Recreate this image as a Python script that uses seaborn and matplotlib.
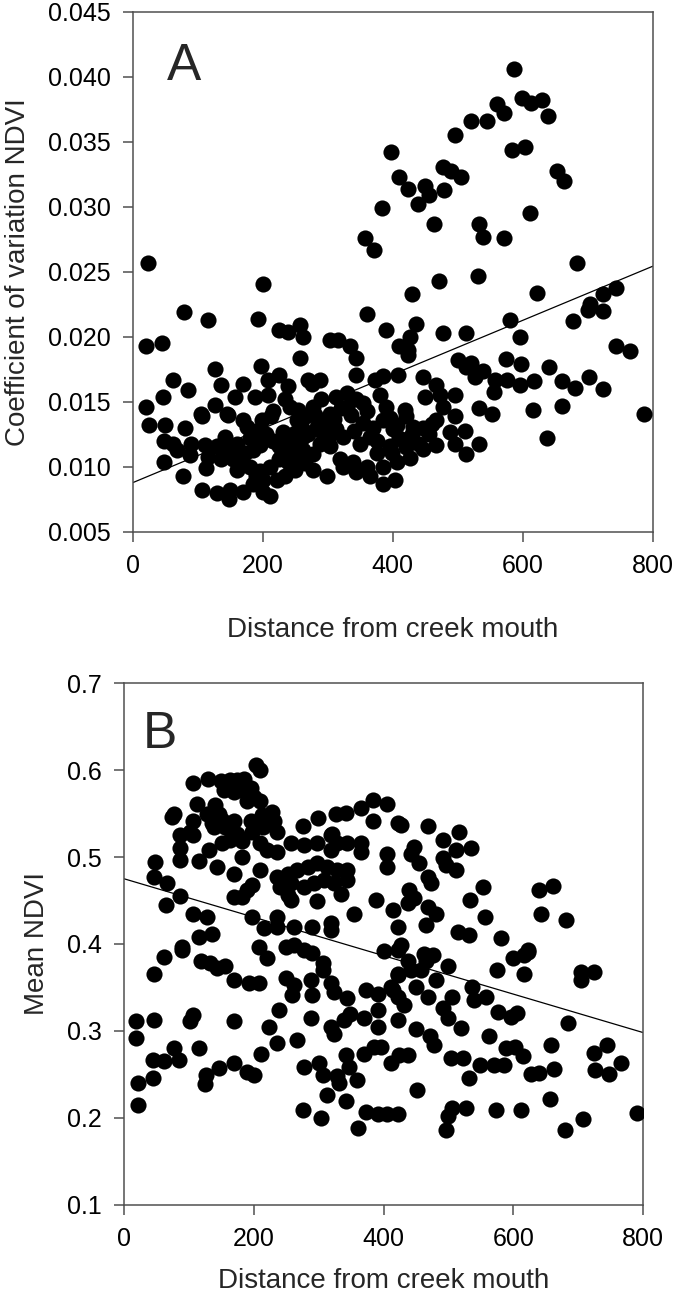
import numpy as np
import pandas as pd
from matplotlib import pyplot as plt
import seaborn as sns

# %%
# panel A: distance from creek mouth vs coefficient of variation of NDVI
dist_a = [397, 409, 383, 357, 371, 23, 200,
          587, 599, 612, 629, 639, 561, 571, 545, 520, 495, 584, 604,
          424, 449, 455, 438, 477, 490, 505, 479, 463, 533, 538, 571, 611, 653, 664, 683,
          471, 531, 430, 622, 744, 724,
          703, 700, 723, 677, 580, 595, 743, 765, 786, 477, 513, 435, 426, 409, 423, 423, 390,
          500, 521, 513, 538, 526, 557, 575, 556, 595, 617, 574, 598, 640,
          660, 680, 702, 723, 616, 660, 638, 533, 553, 533, 513,
          447, 467, 495, 449, 477, 495, 511, 495, 467, 466, 418, 421, 447, 406, 416, 398, 406, 426, 447, 404, 472, 488, 431,
          79, 115, 193, 360, 20, 45, 224, 239, 257, 261, 303, 316, 334, 343, 257, 197, 126, 61, 85, 136, 170, 157, 188, 208,
          208, 224, 239, 270, 288, 276, 343, 372, 385, 408,
          46, 20, 24, 49, 80, 47, 62, 67, 47, 77, 90, 88, 105, 106, 126, 144, 147, 111, 116, 113, 129, 142,
          106, 130, 148, 149, 160, 154, 136,
          170, 185, 200, 211, 200, 221, 234, 239, 224, 211, 190, 172, 185, 195,
          170, 175, 198, 213, 216, 231, 237, 237, 252, 249, 262, 262, 252, 254, 267, 234, 242,
          277, 290, 303, 313, 329, 344, 354, 329,
          283, 298, 313, 324, 288, 277, 303, 318, 277, 298, 324, 339, 344, 360, 365, 354, 365, 385, 400, 390, 395, 385, 385, 375,
          260, 270, 280, 290, 300, 310, 320, 335, 340, 350, 360, 370, 375, 380, 395, 410, 420, 430, 440, 455, 460,
          245, 255, 225, 215, 205, 190, 180, 160, 150, 165, 180, 195, 250, 265, 230]
cv_a = [0.0342, 0.0323, 0.0299, 0.0276, 0.0267, 0.0257, 0.0241,
        0.0406, 0.0384, 0.0380, 0.0382, 0.0370, 0.0379, 0.0372, 0.0366, 0.0366, 0.0355, 0.0344, 0.0346,
        0.0314, 0.0316, 0.0309, 0.0302, 0.0331, 0.0328, 0.0323, 0.0313, 0.0287, 0.0287, 0.0277, 0.0276, 0.0295, 0.0328, 0.0320, 0.0257,
        0.0243, 0.0247, 0.0233, 0.0234, 0.0238, 0.0233,
        0.0225, 0.0221, 0.0220, 0.0212, 0.0213, 0.0200, 0.0193, 0.0189, 0.0141, 0.0203, 0.0203, 0.0210, 0.0200, 0.0193, 0.0190, 0.0186, 0.0205,
        0.0182, 0.0180, 0.0177, 0.0174, 0.0169, 0.0167, 0.0167, 0.0158, 0.0163, 0.0166, 0.0183, 0.0179, 0.0177,
        0.0166, 0.0161, 0.0169, 0.0160, 0.0144, 0.0147, 0.0122, 0.0145, 0.0141, 0.0118, 0.0110,
        0.0169, 0.0163, 0.0155, 0.0154, 0.0146, 0.0139, 0.0128, 0.0118, 0.0117, 0.0136, 0.0144, 0.0139, 0.0130, 0.0132, 0.0121, 0.0111, 0.0104, 0.0107, 0.0114, 0.0090, 0.0155, 0.0127, 0.0131,
        0.0219, 0.0213, 0.0214, 0.0218, 0.0193, 0.0195, 0.0205, 0.0204, 0.0209, 0.0200, 0.0198, 0.0198, 0.0193, 0.0184, 0.0184, 0.0178, 0.0175, 0.0167, 0.0159, 0.0163, 0.0164, 0.0154, 0.0154, 0.0155,
        0.0167, 0.0171, 0.0162, 0.0167, 0.0167, 0.0164, 0.0171, 0.0167, 0.0170, 0.0171,
        0.0154, 0.0146, 0.0132, 0.0132, 0.0130, 0.0120, 0.0118, 0.0113, 0.0104, 0.0093, 0.0118, 0.0109, 0.0141, 0.0139, 0.0148, 0.0141, 0.0140, 0.0117, 0.0108, 0.0099, 0.0116, 0.0123,
        0.0082, 0.0080, 0.0075, 0.0082, 0.0098, 0.0106, 0.0106,
        0.0081, 0.0087, 0.0090, 0.0078, 0.0081, 0.0090, 0.0093, 0.0104, 0.0106, 0.0100, 0.0093, 0.0111, 0.0113, 0.0117,
        0.0136, 0.0131, 0.0136, 0.0139, 0.0143, 0.0127, 0.0123, 0.0118, 0.0136, 0.0126, 0.0123, 0.0113, 0.0106, 0.0144, 0.0139, 0.0152, 0.0146,
        0.0146, 0.0152, 0.0141, 0.0154, 0.0157, 0.0152, 0.0149, 0.0146,
        0.0131, 0.0134, 0.0129, 0.0123, 0.0118, 0.0110, 0.0116, 0.0106, 0.0098, 0.0093, 0.0100, 0.0104, 0.0096, 0.0100, 0.0093, 0.0134, 0.0123, 0.0136, 0.0129, 0.0146, 0.0116, 0.0100, 0.0087, 0.0111,
        0.0130, 0.0125, 0.0140, 0.0128, 0.0122, 0.0137, 0.0145, 0.0140, 0.0128, 0.0118, 0.0143, 0.0130, 0.0120, 0.0155, 0.0138, 0.0122, 0.0115, 0.0125, 0.0118, 0.0125, 0.0133,
        0.0112, 0.0118, 0.0116, 0.0120, 0.0125, 0.0128, 0.0122, 0.0118, 0.0113, 0.0103, 0.0100, 0.0097, 0.0098, 0.0103, 0.0110]

# panel B: distance from creek mouth vs mean NDVI
dist_b = [203, 210, 106, 129, 150, 164, 174, 185, 154, 169, 180, 195, 200, 210, 190,
          113, 141, 128, 146, 77, 74, 106, 102, 136, 151, 169, 156, 138,
          195, 213, 228, 231, 215, 198, 236, 87, 87, 87, 107,
          115, 131, 144, 151, 164, 174, 182, 182, 169, 210, 221, 236, 210, 198, 190, 169, 182,
          257, 277, 298, 319, 329, 344, 319, 365, 365, 276, 299, 321,
          326, 342, 365, 384, 406, 383, 422, 406, 406, 388, 414, 422,
          48, 46, 66, 86, 65, 107, 128, 136, 115, 89,
          236, 252, 267, 283, 298, 313, 329, 344, 241, 257, 277, 293, 308, 324, 344, 334, 257, 298, 252,
          198, 216, 236, 236, 262, 290, 319, 319, 355,
          427, 469, 491, 516, 535, 512, 447, 442, 455, 491, 496, 512, 468, 473, 439, 447, 437, 468, 481, 465,
          427, 514, 532, 534, 554, 557, 581, 622, 639, 661, 642, 681,
          46, 61, 89, 118, 133, 144, 156, 169, 192, 208, 208, 221,
          249, 262, 277, 290, 306, 306, 249, 262, 259, 288, 290,
          319, 324, 344, 349, 370, 391, 339, 319, 324, 373, 391, 391, 411, 422, 422, 401, 422,
          239, 223, 236, 267, 288, 211, 19, 19, 46, 45, 61, 77, 84, 102, 107, 115, 170, 21, 45, 21,
          127, 125, 146, 169, 190, 200,
          277, 300, 306, 329, 331, 342, 347, 359, 313, 342, 276, 304, 360, 373, 391, 406, 422, 411, 370, 385, 396,
          437, 463, 476, 465, 458, 442, 422, 414, 422, 432, 450, 468, 481, 499,
          599, 617, 622, 617, 575,
          450, 472, 478, 491, 499, 506, 520, 537, 540, 558, 563, 576, 596, 606,
          424, 437, 504, 522, 548, 532, 571, 586, 589, 602, 615, 627, 640, 663, 658, 684,
          452, 506, 499, 496, 527, 573, 612, 656, 679, 707, 790,
          704, 704, 724, 724, 745, 726, 747, 766]
ndvi_b = [0.606, 0.600, 0.585, 0.590, 0.587, 0.588, 0.589, 0.590, 0.577, 0.575, 0.577, 0.579, 0.569, 0.564, 0.564,
          0.561, 0.560, 0.550, 0.550, 0.550, 0.546, 0.541, 0.529, 0.539, 0.543, 0.541, 0.535, 0.535,
          0.541, 0.548, 0.552, 0.541, 0.535, 0.529, 0.529, 0.525, 0.510, 0.497, 0.525,
          0.495, 0.508, 0.489, 0.516, 0.520, 0.527, 0.518, 0.500, 0.481, 0.516, 0.508, 0.506, 0.485, 0.468, 0.462, 0.454, 0.454,
          0.516, 0.514, 0.516, 0.525, 0.516, 0.516, 0.508, 0.516, 0.506, 0.536, 0.545, 0.527,
          0.550, 0.551, 0.556, 0.566, 0.561, 0.541, 0.539, 0.504, 0.489, 0.451, 0.439, 0.420,
          0.494, 0.477, 0.470, 0.455, 0.445, 0.435, 0.431, 0.412, 0.408, 0.397,
          0.477, 0.481, 0.485, 0.489, 0.493, 0.489, 0.485, 0.485, 0.466, 0.470, 0.466, 0.470, 0.474, 0.470, 0.474, 0.458, 0.451, 0.449, 0.456,
          0.431, 0.418, 0.431, 0.420, 0.420, 0.420, 0.424, 0.416, 0.435,
          0.537, 0.536, 0.520, 0.529, 0.510, 0.508, 0.512, 0.504, 0.493, 0.499, 0.491, 0.485, 0.477, 0.470, 0.462, 0.453, 0.447, 0.443, 0.435, 0.422,
          0.399, 0.414, 0.410, 0.451, 0.465, 0.431, 0.407, 0.393, 0.462, 0.467, 0.435, 0.428,
          0.366, 0.385, 0.393, 0.380, 0.378, 0.372, 0.375, 0.359, 0.355, 0.355, 0.397, 0.384,
          0.397, 0.399, 0.393, 0.390, 0.378, 0.370, 0.361, 0.353, 0.341, 0.359, 0.341,
          0.355, 0.345, 0.338, 0.320, 0.315, 0.305, 0.313, 0.305, 0.297, 0.347, 0.343, 0.324, 0.351, 0.366, 0.393, 0.392, 0.313,
          0.324, 0.305, 0.286, 0.290, 0.315, 0.274, 0.311, 0.292, 0.313, 0.267, 0.265, 0.280, 0.267, 0.311, 0.318, 0.280, 0.312, 0.240, 0.246, 0.215,
          0.249, 0.239, 0.257, 0.263, 0.253, 0.249,
          0.259, 0.263, 0.249, 0.248, 0.240, 0.272, 0.259, 0.244, 0.226, 0.219, 0.209, 0.200, 0.188, 0.207, 0.205, 0.205, 0.205, 0.263, 0.274, 0.282, 0.282,
          0.380, 0.389, 0.387, 0.380, 0.370, 0.370, 0.364, 0.347, 0.339, 0.330, 0.351, 0.339, 0.359, 0.375,
          0.384, 0.387, 0.391, 0.366, 0.370,
          0.302, 0.294, 0.284, 0.326, 0.315, 0.339, 0.303, 0.351, 0.336, 0.339, 0.294, 0.322, 0.316, 0.321,
          0.272, 0.272, 0.269, 0.269, 0.261, 0.246, 0.261, 0.261, 0.280, 0.282, 0.271, 0.251, 0.252, 0.256, 0.284, 0.309,
          0.232, 0.211, 0.202, 0.186, 0.211, 0.209, 0.209, 0.222, 0.186, 0.199, 0.206,
          0.368, 0.359, 0.368, 0.275, 0.284, 0.255, 0.251, 0.263]

# fitted lines as printed in the figure (intercept, slope per unit distance)
fit_a = (0.0088, 0.0000208)
fit_b = (0.475, -0.000221)

xticks = [0, 200, 400, 600, 800]
yticks_a = [0.005, 0.010, 0.015, 0.020, 0.025, 0.030, 0.035, 0.040, 0.045]
yticks_b = [0.1, 0.2, 0.3, 0.4, 0.5, 0.6, 0.7]

df_a = pd.DataFrame({'distance': dist_a, 'cv': cv_a})
df_b = pd.DataFrame({'distance': dist_b, 'ndvi': ndvi_b})

# %%
sns.set_style('ticks')
plt.rcParams['font.family'] = ['Liberation Sans', 'DejaVu Sans']
plt.rcParams['axes.edgecolor'] = '#505050'
plt.rcParams['axes.linewidth'] = 1.1
plt.rcParams['xtick.color'] = '#505050'
plt.rcParams['ytick.color'] = '#505050'
plt.rcParams['xtick.labelcolor'] = 'black'
plt.rcParams['ytick.labelcolor'] = 'black'

fig = plt.figure(figsize=(6.75, 13), dpi=100)
ax_a = fig.add_axes([0.197, 0.5908, 0.770, 0.400])
ax_b = fig.add_axes([0.1837, 0.0731, 0.769, 0.4015])


def panel(ax, data, ycol, fit, yticks, ylabel, letter, ypos, xpad):
    sns.scatterplot(data=data, x='distance', y=ycol, ax=ax, color='black',
                    s=135, linewidth=0, legend=False, zorder=3)
    # regression line over the full x range
    line = pd.DataFrame({'distance': [xticks[0], xticks[-1]]})
    line[ycol] = fit[0] + fit[1] * line['distance']
    sns.lineplot(data=line, x='distance', y=ycol, ax=ax, color='black',
                 lw=0.9, zorder=2)
    ax.set_xlim(xticks[0], xticks[-1])
    ax.set_ylim(yticks[0], yticks[-1])
    ax.set_xticks(xticks)
    ax.set_yticks(yticks)
    ax.tick_params(length=7, width=1.1, labelsize=18, pad=9)
    ax.set_xlabel('Distance from creek mouth', fontsize=20, labelpad=xpad)
    ax.set_ylabel(ylabel, fontsize=20, labelpad=12)
    ax.text(ypos[0], ypos[1], letter, transform=ax.transAxes, fontsize=37,
            va='baseline', ha='left')


panel(ax_a, df_a, 'cv', fit_a, yticks_a, 'Coefficient of variation NDVI', 'A', (0.065, 0.869), 28)
ax_a.set_yticklabels([f'{t:.3f}' for t in yticks_a])
panel(ax_b, df_b, 'ndvi', fit_b, yticks_b, 'Mean NDVI', 'B', (0.037, 0.8755), 12)
ax_b.set_yticklabels([f'{t:.1f}' for t in yticks_b])

plt.savefig('out.png', dpi=100)
